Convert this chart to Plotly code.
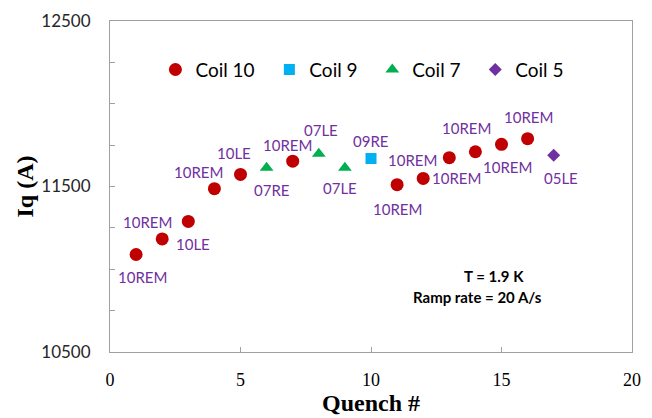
import plotly.graph_objects as go

# quench number / quench current (A) per coil, with the quench location labels
coil10_x = [1, 2, 3, 4, 5, 7, 11, 12, 13, 14, 15, 16]
coil10_y = [11089, 11183, 11289, 11487, 11573, 11653, 11511, 11549, 11674, 11710, 11755, 11789]
coil10_lbl = ["10REM", "10REM", "10LE", "10REM", "10LE", "10REM", "10REM", "10REM",
              "10REM", "10REM", "10REM", "10REM"]

coil9_x = [10]
coil9_y = [11669]
coil9_lbl = ["09RE"]

coil7_x = [6, 8, 9]
coil7_y = [11613, 11698, 11613]
coil7_lbl = ["07RE", "07LE", "07LE"]

coil5_x = [17]
coil5_y = [11689]
coil5_lbl = ["05LE"]

# label offsets in px (dx, dy down), by quench number
label_shift = {1: (6, 22), 2: (-15, -17), 3: (5, 23), 4: (-16, -17), 5: (-7, -21),
               6: (5, 22), 7: (-5, -16), 8: (2, -24), 9: (-5, 20), 10: (-1, -18),
               11: (0, 24), 12: (33, 0), 13: (-37, 2), 14: (-9, -24), 15: (6, 23),
               16: (1, -22), 17: (7, 23)}

pad = "\u00a0\u00a0"  # extra room between legend entries
series = [
    ("Coil 10", coil10_x, coil10_y, coil10_lbl, "circle", "#C00000", 13),
    ("Coil 9", coil9_x, coil9_y, coil9_lbl, "square", "#00B0F0", 11),
    ("Coil 7", coil7_x, coil7_y, coil7_lbl, "triangle-up", "#00B050", 12),
    ("Coil 5", coil5_x, coil5_y, coil5_lbl, "diamond", "#7030A0", 10),
]

fig = go.Figure()
for name, xs, ys, lbls, sym, col, sz in series:
    fig.add_trace(go.Scatter(x=xs, y=ys, mode="markers", name=name + pad,
                             marker=dict(symbol=sym, color=col, size=sz)))
    for x, y, t in zip(xs, ys, lbls):
        dx, dy = label_shift[x]
        fig.add_annotation(x=x, y=y, text=t, showarrow=False, xshift=dx, yshift=-dy,
                           font=dict(family="Lato", size=15, color="#7030A0"))

# info box, placed in page pixels then converted to domain fractions
for txt, px, py in [("T = 1.9 K", 494, 276), ("Ramp rate = 20 A/s", 477, 297)]:
    fig.add_annotation(x=(px - 110) / 522, y=(352 - py) / 331, xref="x domain", yref="y domain",
                       xanchor="center", yanchor="middle",
                       text="<b>" + txt + "</b>", showarrow=False,
                       font=dict(family="Lato", size=15, color="black"))

axis_col = "#A0A0A0"
fig.update_layout(
    width=644, height=410,
    margin=dict(l=102, r=20, t=13, b=66),
    paper_bgcolor="white", plot_bgcolor="white",
    showlegend=True,
    legend=dict(orientation="h", x=0.087, y=0.853, xanchor="left", yanchor="middle",
                font=dict(family="Lato", size=19, color="black"), bgcolor="rgba(0,0,0,0)"),
    xaxis=dict(range=[0, 20], dtick=5, showgrid=False, zeroline=False, automargin=False,
               showline=True, linecolor=axis_col, linewidth=1, mirror=True,
               ticks="inside", ticklen=5, tickcolor=axis_col, ticklabelstandoff=11,
               tickfont=dict(family="Liberation Serif", size=18, color="black"),
               title=dict(text="<b>Quench #</b>", standoff=4,
                          font=dict(family="Liberation Serif", size=24, color="black"))),
    yaxis=dict(range=[10500, 12500], tick0=10500, dtick=1000, tickformat="d",
               showgrid=False, zeroline=False, automargin=False,
               showline=True, linecolor=axis_col, linewidth=1, mirror=True,
               ticks="inside", ticklen=5, tickcolor=axis_col, ticklabelstandoff=15,
               minor=dict(tick0=10500, dtick=250, ticks="inside", ticklen=5, tickcolor=axis_col),
               tickfont=dict(family="Lato", size=17, color="#262626"),
               title=dict(text="<b>Iq (A)</b>", standoff=0,
                          font=dict(family="Liberation Serif", size=24, color="black"))),
)

fig.write_html("out.html")
